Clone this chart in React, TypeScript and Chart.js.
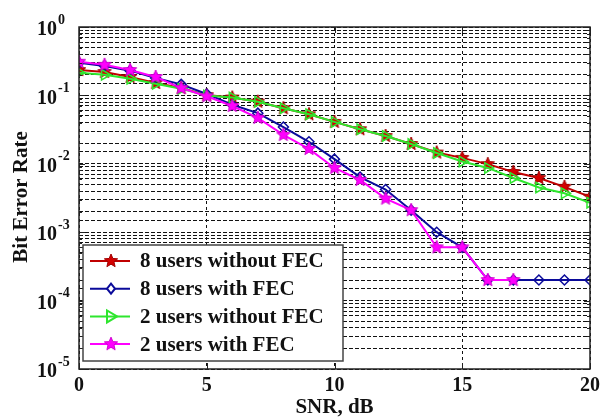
import React, { useEffect, useRef } from "react";
import { Chart, registerables } from "chart.js";

Chart.register(...registerables);

const snr = [0, 1, 2, 3, 4, 5, 6, 7, 8, 9, 10, 11, 12, 13, 14, 15, 16, 17, 18, 19, 20];
const ber8NoFec = [0.235, 0.22, 0.186, 0.152, 0.128, 0.101, 0.093, 0.081, 0.065, 0.053, 0.041, 0.032, 0.0255, 0.0195, 0.0146, 0.0122, 0.0099, 0.0076, 0.0062, 0.0046, 0.0033];
const ber8Fec = [0.3, 0.27, 0.23, 0.18, 0.145, 0.105, 0.073, 0.055, 0.0345, 0.021, 0.0117, 0.0064, 0.0042, 0.0021, 0.001, 0.0006, 0.0002, 0.0002, 0.0002, 0.0002, 0.0002];
const ber2NoFec = [0.215, 0.2, 0.175, 0.148, 0.125, 0.1, 0.093, 0.081, 0.065, 0.053, 0.041, 0.032, 0.0255, 0.0195, 0.0144, 0.0108, 0.0087, 0.0062, 0.0045, 0.0037, 0.0027];
const ber2Fec = [0.31, 0.28, 0.235, 0.186, 0.128, 0.097, 0.07, 0.047, 0.0265, 0.0165, 0.0087, 0.0058, 0.0031, 0.0021, 0.0006, 0.0006, 0.0002, 0.0002];

const xTickValues = [0, 5, 10, 15, 20];
const yExponents = [0, -1, -2, -3, -4, -5];
const yMinorMultipliers = [2, 3, 4, 5, 6, 7, 8, 9];
const legendLabels = ["8 users without FEC", "8 users with FEC", "2 users without FEC", "2 users with FEC"];
const xTitle = "SNR, dB";
const yTitle = "Bit Error Rate";

const RED = "#d40000";
const RED_LINE = "#c00000";
const BLUE = "#0a0a9a";
const GREEN = "#2ee62e";
const MAGENTA = "#ff00ff";
const TEXT = "#111111";
const SERIF = '"Liberation Serif", "Times New Roman", serif';

function makeStar(fill: string, stroke: string, r: number): HTMLCanvasElement {
  const c = document.createElement("canvas");
  const s = Math.ceil(r * 2 + 4);
  c.width = s;
  c.height = s;
  const g = c.getContext("2d")!;
  g.translate(s / 2, s / 2);
  g.beginPath();
  for (let i = 0; i < 10; i++) {
    const rad = i % 2 === 0 ? r : r * 0.45;
    const ang = -Math.PI / 2 + (i * Math.PI) / 5;
    const px = rad * Math.cos(ang);
    const py = rad * Math.sin(ang);
    if (i === 0) g.moveTo(px, py);
    else g.lineTo(px, py);
  }
  g.closePath();
  g.fillStyle = fill;
  g.fill();
  g.strokeStyle = stroke;
  g.lineWidth = 1;
  g.stroke();
  return c;
}

function toPoints(vals: number[]) {
  return vals.map((v, i) => ({ x: snr[i], y: v }));
}

export default function App() {
  const ref = useRef<HTMLCanvasElement>(null);

  useEffect(() => {
    const canvas = ref.current;
    if (!canvas) return;
    const redStar = makeStar(RED, "#a00000", 7);
    const magStar = makeStar(MAGENTA, "#d000d0", 7);

    const overlay = {
      id: "overlay",
      afterDraw(chart: any) {
        const { ctx, chartArea: a, scales } = chart;
        const xs = scales.x;
        const ys = scales.y;
        ctx.save();
        ctx.setLineDash([]);
        // axis ticks (inside)
        ctx.strokeStyle = "#222";
        ctx.lineWidth = 1;
        ctx.beginPath();
        for (const e of yExponents) {
          const py = Math.round(ys.getPixelForValue(Math.pow(10, e))) + 0.5;
          ctx.moveTo(a.left, py); ctx.lineTo(a.left + 6, py);
          ctx.moveTo(a.right, py); ctx.lineTo(a.right - 6, py);
          if (e > -5) {
            for (const m of yMinorMultipliers) {
              const pm = Math.round(ys.getPixelForValue(m * Math.pow(10, e - 1))) + 0.5;
              ctx.moveTo(a.left, pm); ctx.lineTo(a.left + 3, pm);
              ctx.moveTo(a.right, pm); ctx.lineTo(a.right - 3, pm);
            }
          }
        }
        for (const v of xTickValues) {
          const px = Math.round(xs.getPixelForValue(v)) + 0.5;
          ctx.moveTo(px, a.bottom); ctx.lineTo(px, a.bottom - 6);
          ctx.moveTo(px, a.top); ctx.lineTo(px, a.top + 6);
        }
        ctx.stroke();
        // frame
        ctx.strokeStyle = "#222";
        ctx.lineWidth = 1.5;
        ctx.strokeRect(a.left, a.top, a.right - a.left, a.bottom - a.top);

        ctx.fillStyle = TEXT;
        // y tick labels
        for (const e of yExponents) {
          const py = ys.getPixelForValue(Math.pow(10, e));
          ctx.font = `bold 20px ${SERIF}`;
          ctx.textAlign = "right";
          ctx.textBaseline = "middle";
          ctx.fillText("10", 57, py + 3);
          ctx.font = `bold 14px ${SERIF}`;
          ctx.textAlign = "left";
          ctx.fillText(e === 0 ? "0" : "-" + Math.abs(e), 58, py - 7);
        }
        // x tick labels
        ctx.font = `bold 20px ${SERIF}`;
        ctx.textAlign = "center";
        ctx.textBaseline = "middle";
        for (const v of xTickValues) {
          ctx.fillText(String(v), xs.getPixelForValue(v), 386);
        }
        // titles
        ctx.font = `bold 21px ${SERIF}`;
        ctx.fillText(xTitle, (a.left + a.right) / 2, 408);
        ctx.save();
        ctx.translate(22, 197);
        ctx.rotate(-Math.PI / 2);
        ctx.fillText(yTitle, 0, 0);
        ctx.restore();

        // legend
        const bx = 83, by = 245, bw = 260, bh = 116;
        ctx.fillStyle = "#fff";
        ctx.fillRect(bx, by, bw, bh);
        ctx.strokeStyle = "#444";
        ctx.lineWidth = 1.5;
        ctx.strokeRect(bx, by, bw, bh);
        const colors = [RED_LINE, BLUE, GREEN, MAGENTA];
        for (let i = 0; i < legendLabels.length; i++) {
          const cy = 261 + i * 27.7;
          ctx.strokeStyle = colors[i];
          ctx.lineWidth = 2;
          ctx.beginPath();
          ctx.moveTo(90, cy);
          ctx.lineTo(130, cy);
          ctx.stroke();
          const mx = 111;
          if (i === 0) ctx.drawImage(redStar, mx - redStar.width / 2, cy - redStar.height / 2);
          else if (i === 3) ctx.drawImage(magStar, mx - magStar.width / 2, cy - magStar.height / 2);
          else if (i === 1) {
            ctx.beginPath();
            ctx.moveTo(mx, cy - 5);
            ctx.lineTo(mx + 4, cy);
            ctx.lineTo(mx, cy + 5);
            ctx.lineTo(mx - 4, cy);
            ctx.closePath();
            ctx.fillStyle = "#fff";
            ctx.fill();
            ctx.stroke();
          } else {
            ctx.beginPath();
            ctx.moveTo(mx + 6, cy);
            ctx.lineTo(mx - 4, cy - 6);
            ctx.lineTo(mx - 4, cy + 6);
            ctx.closePath();
            ctx.stroke();
          }
          ctx.fillStyle = TEXT;
          ctx.font = `bold 21px ${SERIF}`;
          ctx.textAlign = "left";
          ctx.textBaseline = "middle";
          ctx.fillText(legendLabels[i], 140, cy + 1);
        }
        ctx.restore();
      },
    };

    const chart = new Chart(canvas, {
      type: "line",
      data: {
        datasets: [
          {
            label: legendLabels[0],
            data: toPoints(ber8NoFec),
            borderColor: RED_LINE,
            backgroundColor: RED,
            borderWidth: 2,
            pointStyle: redStar as any,
            pointRadius: 7,
            order: 4,
          },
          {
            label: legendLabels[1],
            data: toPoints(ber8Fec),
            borderColor: BLUE,
            backgroundColor: "rgba(255,255,255,0)",
            borderWidth: 2,
            pointStyle: "rectRot",
            pointRadius: 5,
            pointBorderWidth: 1.5,
            order: 3,
          },
          {
            label: legendLabels[2],
            data: toPoints(ber2NoFec),
            borderColor: GREEN,
            backgroundColor: "rgba(255,255,255,0)",
            borderWidth: 2,
            pointStyle: "triangle",
            rotation: 90,
            pointRadius: 6,
            pointBorderWidth: 1.5,
            order: 2,
          },
          {
            label: legendLabels[3],
            data: toPoints(ber2Fec),
            borderColor: MAGENTA,
            backgroundColor: MAGENTA,
            borderWidth: 2,
            pointStyle: magStar as any,
            pointRadius: 7,
            order: 1,
          },
        ],
      },
      options: {
        animation: false,
        responsive: false,
        layout: { padding: { top: 27, right: 13, left: 0, bottom: 0 } },
        plugins: { legend: { display: false }, tooltip: { enabled: false } },
        scales: {
          x: {
            type: "linear",
            min: 0,
            max: 20,
            ticks: { display: false, stepSize: 5 },
            grid: { color: "#111", lineWidth: 1, drawTicks: false },
            border: { display: false, dash: [3, 3] },
            afterFit(s: any) {
              s.height = 48;
            },
          },
          y: {
            type: "logarithmic",
            min: 1e-5,
            max: 1,
            ticks: { display: false },
            grid: { color: "#111", lineWidth: 1, drawTicks: false },
            border: { display: false, dash: [4, 2] },
            afterFit(s: any) {
              s.width = 79;
            },
          },
        },
      },
      plugins: [overlay],
    });
    return () => chart.destroy();
  }, []);

  return (
    <div style={{ position: "absolute", left: 0, top: 0, width: 603, height: 417, background: "#fff" }}>
      <canvas ref={ref} width={603} height={417} />
    </div>
  );
}
